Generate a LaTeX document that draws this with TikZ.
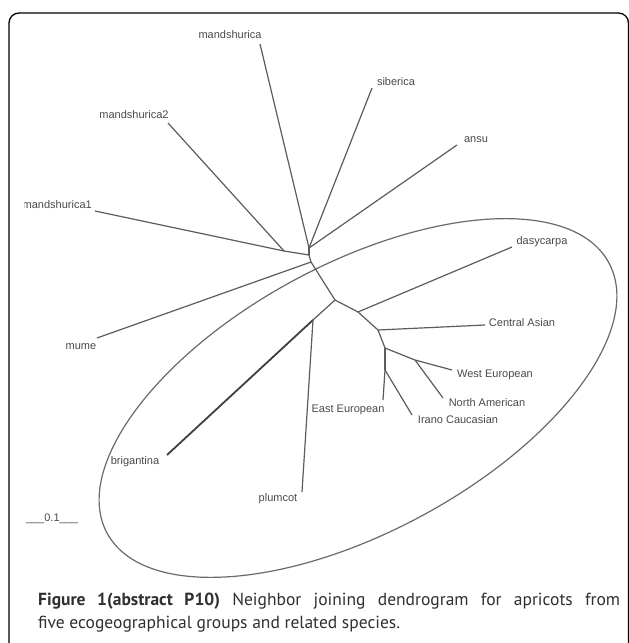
\documentclass[tikz,border=0pt]{standalone}
\usepackage{fontspec}
\setmainfont{PT Sans}
\newfontfamily\labfont{Liberation Sans}
\definecolor{ln}{HTML}{5C5C5C}
\definecolor{ell}{HTML}{6A6A6A}
\definecolor{labtxt}{HTML}{4A4A4A}
\definecolor{captxt}{HTML}{303030}
\begin{document}
\begin{tikzpicture}[x=1pt,y=-1pt,
  br/.style={draw=ln, line width=1.2pt},
  thickbr/.style={draw=ln!70!black, line width=1.8pt},
  ellstyle/.style={draw=ell, line width=1.2pt},
  lab/.style={font=\labfont\fontsize{11}{13}\selectfont, text=labtxt, inner sep=0pt},
  capstyle/.style={font=\fontsize{17.5}{20}\selectfont, text=captxt, inner sep=0pt, anchor=base west}]
\useasboundingbox (0,0) rectangle (629,643);
\clip (0,0) rectangle (629,643);
\fill[white] (0,0) rectangle (629,643);
\draw[line width=1.3pt, rounded corners=10pt] (9,13) rectangle (628.5,700);
\begin{scope}
\clip (24,18) rectangle (628,590);
% ellipse
\draw[ellstyle, rotate around={28.3:(358,398)}] (358,398) ellipse [x radius=285, y radius=134];
% tips
\coordinate (tM) at (260,44);
\coordinate (tS) at (372,88);
\coordinate (tM2) at (168,123);
\coordinate (tAn) at (457,145);
\coordinate (tM1) at (95,211);
\coordinate (tMu) at (97,338);
\coordinate (tD) at (512,247);
\coordinate (tCA) at (485,325);
\coordinate (tWE) at (452,370);
\coordinate (tNA) at (443,398);
\coordinate (tEE) at (383,400);
\coordinate (tIC) at (412,415);
\coordinate (tB) at (167,455);
\coordinate (tP) at (302,492);
% internal nodes
\coordinate (nA) at (309,248);
\coordinate (nM) at (284,251);
\coordinate (nB) at (309,255);
\coordinate (nC) at (311,262);
\coordinate (n3) at (335,300);
\coordinate (n4) at (313,320);
\coordinate (nd) at (358,312);
\coordinate (nca) at (378,330);
\coordinate (n5) at (385,348);
\coordinate (n6) at (415,360);
\coordinate (n7) at (385,370);
% branches
\draw[br] (nA) -- (tM);
\draw[br] (nA) -- (tS);
\draw[br] (nA) -- (tAn);
\draw[br] (nA) -- (nB);
\draw[br] (nM) -- (tM1);
\draw[br] (nM) -- (tM2);
\draw[br] (nM) -- (nB);
\draw[br] (nB) -- (nC);
\draw[br] (nC) -- (tMu);
\draw[br] (nC) -- (n3);
\draw[br] (n3) -- (n4);
\draw[thickbr] (n4) -- (tB);
\draw[br] (n4) -- (tP);
\draw[br] (n3) -- (nd);
\draw[br] (nd) -- (tD);
\draw[br] (nd) -- (nca);
\draw[br] (nca) -- (tCA);
\draw[br] (nca) -- (n5);
\draw[br] (n5) -- (n6);
\draw[br] (n6) -- (tWE);
\draw[br] (n6) -- (tNA);
\draw[br] (n5) -- (n7);
\draw[br] (n7) -- (tEE);
\draw[br] (n7) -- (tIC);
% labels
\node[lab] (Lm) at (230,35) {mandshurica};
\node[lab] (Ls) at (396,82) {siberica};
\node[lab] (Lm2) at (134,115) {mandshurica2};
\node[lab] (La) at (476,140) {ansu};
\node[lab, anchor=east] (Lm1) at (92,205) {mandshurica1};
\node[lab] (Lmu) at (81,347) {mume};
\node[lab] (Ld) at (542,242) {dasycarpa};
\node[lab] (Lca) at (522,323) {Central Asian};
\node[lab] (Lwe) at (495,375) {West European};
\node[lab] (Lna) at (487,403) {North American};
\node[lab] (Lee) at (348,410) {East European};
\node[lab] (Lic) at (458,420) {Irano Caucasian};
\node[lab] (Lb) at (135,462) {brigantina};
\node[lab] (Lp) at (278,499) {plumcot};
\node[lab] (Lsc) at (52,519) {\_\_\_0.1\_\_\_};
\end{scope}
% caption
\node[capstyle] (cap1) at (38,605) {\makebox[582pt][s]{\textbf{Figure 1(abstract P10)} Neighbor joining dendrogram for apricots from}};
\node[capstyle] (cap2) at (38,628) {five ecogeographical groups and related species.};
\end{tikzpicture}
\end{document}
